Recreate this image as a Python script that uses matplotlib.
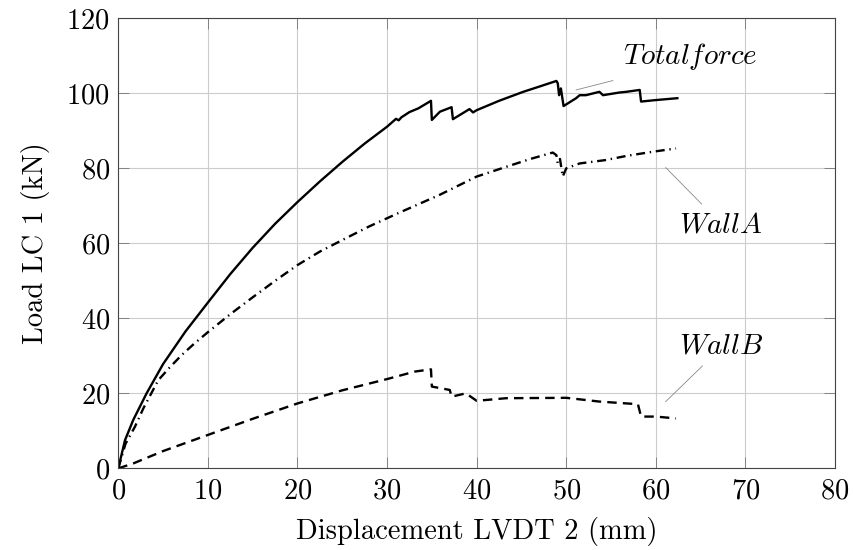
#!/usr/bin/env python3
"""
Load vs displacement of the wall test (total force, wall A, wall B)
"""
import matplotlib
matplotlib.use("Agg")
import matplotlib.pyplot as plt

plt.rcParams['font.family'] = 'serif'
plt.rcParams['font.serif'] = ['cmr10', 'DejaVu Serif']
plt.rcParams['mathtext.fontset'] = 'cm'
plt.rcParams['axes.formatter.use_mathtext'] = True

# Total force (solid)
total_x = [0, 0.75, 1.67, 3.16, 5, 7.5, 10, 12.5, 15, 17.5, 20, 22.5, 25, 27.5, 30, 31.0, 31.3,
           31.6, 32.5, 33.5, 34.9, 35.0, 35.9, 37.2, 37.35, 39.2, 39.6, 40.0, 42.5, 45.2,
           47.0, 48.9, 49.05, 49.2, 49.4, 49.7, 51.1, 51.5, 52.2, 53.7, 54.1, 55.9, 56.7,
           58.2, 58.35, 60.0, 62.4]
total_y = [0, 7.5, 12.9, 20, 27.8, 36.5, 44.2, 51.8, 58.8, 65.2, 71, 76.5, 81.7, 86.6, 91.1,
           93.2, 92.8, 93.6, 95, 96, 98.0, 92.9, 95.1, 96.3, 93.1, 95.8, 94.9, 95.5, 98,
           100.4, 101.8, 103.3, 102.7, 99.5, 101.3, 96.6, 98.7, 99.5, 99.5, 100.4, 99.5,
           100.2, 100.4, 100.9, 97.8, 98.2, 98.7]

# Wall A (dash-dot)
walla_x = [0, 0.8, 1.86, 2.8, 4.46, 5.7, 7.07, 8.5, 10, 12.5, 15, 17.5, 20, 22.5, 25.6, 28,
           31.2, 35.85, 40.0, 43.3, 46, 48.5, 48.9, 49.05, 49.3, 49.6, 50.0, 51.5, 54.4,
           56.7, 59.6, 62.25]
walla_y = [0, 6.5, 11.1, 16, 23.5, 26.8, 30.2, 33.3, 36.3, 41.1, 45.6, 50, 54.2, 57.8, 61.6,
           64.5, 68, 72.9, 77.8, 80.4, 82.5, 84.2, 83.5, 81.3, 82.5, 77.8, 80, 81.3, 82.2,
           83.3, 84.4, 85.3]

# Wall B (dashed)
wallb_x = [0, 1.67, 5, 10, 15, 20, 25, 30, 33.1, 34.9, 35.0, 37.0, 37.2, 38.8, 40.0, 43.3,
           50.0, 53.7, 58.0, 58.35, 60.0, 62.25]
wallb_y = [0, 1.3, 4.6, 8.9, 13.2, 17.3, 20.8, 23.8, 25.8, 26.4, 21.8, 20.9, 19.1, 20, 18.0,
           18.7, 18.8, 17.8, 17.1, 13.8, 13.8, 13.3]

fig = plt.figure(figsize=(8.54, 5.5), dpi=100)
ax = fig.add_axes([0.1385, 0.1485, 0.8393, 0.8182])

ax.plot(total_x, total_y, color='black', linewidth=1.7, linestyle='-')
ax.plot(walla_x, walla_y, color='black', linewidth=1.7, linestyle=(0, (3.8, 2, 0.6, 2)))
ax.plot(wallb_x, wallb_y, color='black', linewidth=1.7, linestyle=(0, (4, 2.6)))

ax.set_xlim(0, 80)
ax.set_ylim(0, 120)
ax.set_xticks(range(0, 81, 10))
ax.set_yticks(range(0, 121, 20))
ax.grid(True, color='#cccccc', linewidth=0.8)
ax.set_axisbelow(True)
ax.tick_params(direction='in', length=8, width=0.6, top=True, right=True,
               labelsize=20.5, color='#777777')
ax.tick_params(axis='x', pad=7)
ax.tick_params(axis='y', pad=6)
for s in ax.spines.values():
    s.set_color('#444444')
    s.set_linewidth(0.8)

ax.set_xlabel('Displacement LVDT 2 (mm)', fontsize=20.5, labelpad=9)
ax.set_ylabel('Load LC 1 (kN)', fontsize=20.5, labelpad=12)

# curve labels with thin grey pointer lines
ln = dict(color='#888888', linewidth=0.6)
ax.text(56.3, 109.7, r'$Total force$', fontsize=21, va='center', ha='left')
ax.plot([51.1, 55.2], [100.9, 103.4], **ln)
ax.text(62.6, 64.9, r'$Wall A$', fontsize=21, va='center', ha='left')
ax.plot([61.1, 65.1], [80.2, 70.5], **ln)
ax.text(62.6, 32.4, r'$Wall B$', fontsize=21, va='center', ha='left')
ax.plot([61.1, 65.2], [17.8, 27.3], **ln)

fig.savefig('out.png', dpi=100)
